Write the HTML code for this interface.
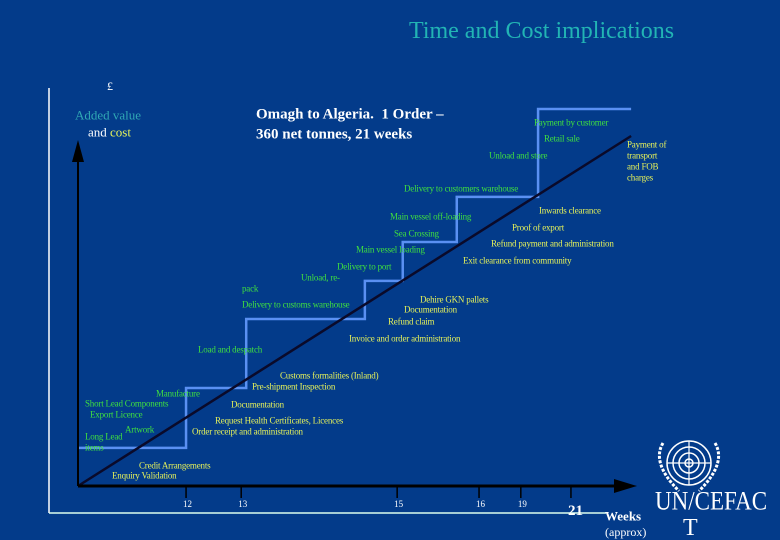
<!DOCTYPE html>
<html><head><meta charset="utf-8"><style>
html,body{margin:0;padding:0;background:#033b8a;}
#root{position:relative;width:780px;height:540px;overflow:hidden;background:#033b8a;font-family:"Liberation Serif",serif;}
.t{position:absolute;white-space:nowrap;line-height:1;transform:translateY(-50%);}
.g{color:#3fe03f;font-size:9px;letter-spacing:-0.2px;}
.y{color:#e6f25a;font-size:9px;letter-spacing:-0.2px;}
</style></head><body>
<div id="root">
<svg id="chart" width="780" height="540" style="position:absolute;left:0;top:0"></svg>
<div class="t" style="left:409px;top:31px;color:#22b4b4;font-size:24px;">Time and Cost implications</div>
<div class="t" style="left:107px;top:86px;color:#fff;font-size:12px;">£</div>
<div class="t" style="left:75px;top:115px;color:#30a8b4;font-size:13px;">Added value</div>
<div class="t" style="left:88px;top:132px;color:#fff;font-size:13px;">and <span style="color:#e6f25a">cost</span></div>
<div class="t" style="left:256px;top:115px;color:#fff;font-size:15px;font-weight:bold;">Omagh to Algeria.&nbsp; 1 Order –</div>
<div class="t" style="left:256px;top:135px;color:#fff;font-size:15px;font-weight:bold;">360 net tonnes, 21 weeks</div>

<div class="t g" style="left:534px;top:123px">Payment by customer</div>
<div class="t g" style="left:544px;top:139px">Retail sale</div>
<div class="t g" style="left:489px;top:156px">Unload and store</div>
<div class="t g" style="left:404px;top:189px">Delivery to customers warehouse</div>
<div class="t g" style="left:390px;top:217px">Main vessel off-loading</div>
<div class="t g" style="left:394px;top:234px">Sea Crossing</div>
<div class="t g" style="left:356px;top:250px">Main vessel loading</div>
<div class="t g" style="left:337px;top:267px">Delivery to port</div>
<div class="t g" style="left:301px;top:278px">Unload, re-</div>
<div class="t g" style="left:242px;top:289px">pack</div>
<div class="t g" style="left:242px;top:305px">Delivery to customs warehouse</div>
<div class="t g" style="left:198px;top:350px">Load and despatch</div>
<div class="t g" style="left:156px;top:394px">Manufacture</div>
<div class="t g" style="left:85px;top:404px">Short Lead Components</div>
<div class="t g" style="left:90px;top:415px">Export Licence</div>
<div class="t g" style="left:125px;top:430px">Artwork</div>
<div class="t g" style="left:85px;top:437px">Long Lead</div>
<div class="t g" style="left:85px;top:448px">items</div>

<div class="t y" style="left:627px;top:145px">Payment of</div>
<div class="t y" style="left:627px;top:156px">transport</div>
<div class="t y" style="left:627px;top:167px">and FOB</div>
<div class="t y" style="left:627px;top:178px">charges</div>
<div class="t y" style="left:539px;top:211px">Inwards clearance</div>
<div class="t y" style="left:512px;top:228px">Proof of export</div>
<div class="t y" style="left:491px;top:244px">Refund payment and administration</div>
<div class="t y" style="left:463px;top:261px">Exit clearance from community</div>
<div class="t y" style="left:420px;top:300px">Dehire GKN pallets</div>
<div class="t y" style="left:404px;top:310px">Documentation</div>
<div class="t y" style="left:388px;top:322px">Refund claim</div>
<div class="t y" style="left:349px;top:339px">Invoice and order administration</div>
<div class="t y" style="left:280px;top:376px">Customs formalities (Inland)</div>
<div class="t y" style="left:252px;top:387px">Pre-shipment Inspection</div>
<div class="t y" style="left:231px;top:405px">Documentation</div>
<div class="t y" style="left:215px;top:421px">Request Health Certificates, Licences</div>
<div class="t y" style="left:192px;top:432px">Order receipt and administration</div>
<div class="t y" style="left:139px;top:466px">Credit Arrangements</div>
<div class="t y" style="left:112px;top:476px">Enquiry Validation</div>

<div class="t" style="left:605px;top:516px;color:#fff;font-size:13px;font-weight:bold;">Weeks</div>
<div class="t" style="left:605px;top:532px;color:#fff;font-size:12px;">(approx)</div>
<div class="t" style="left:655px;top:501px;color:#fff;font-size:23px;transform:translateY(-50%) scaleY(1.15);">UN/CEFAC</div>
<div class="t" style="left:683px;top:528px;color:#fff;font-size:24px;">T</div>
</div>
<script>
const tickLabels = ["12","13","15","16","19","21"];
const tickPos = [19.4, 29.3, 57.3, 72.0, 79.5, 88.5];
const stepX = [0, 19.4, 30.2, 51.5, 58.3, 68.0, 82.6, 99.3];
const stepY = [10.9, 28.0, 47.7, 58.6, 69.7, 82.6, 107.7, 107.7];
const costX = [0, 99.3];
const costY = [0, 100];

const NS = "http://www.w3.org/2000/svg";
const svg = document.getElementById("chart");
const x0 = 78, x1 = 635, y0 = 486;
function sx(v){ return x0 + v * (x1 - x0) / 100; }
function sy(v){ return y0 - v * 3.5; }
function mk(tag, attrs){ const e = document.createElementNS(NS, tag); for (const k in attrs) e.setAttribute(k, attrs[k]); svg.appendChild(e); return e; }

let e;
e = mk("line",{x1:49,y1:88,x2:49,y2:513,stroke:"#fff","stroke-width":1.5});


e = mk("line",{x1:49,y1:513,x2:606,y2:513,stroke:"#dfe",'stroke-width':1.5});



let d = "M" + sx(stepX[0]) + "," + sy(stepY[0]);
for (let i = 1; i < stepX.length; i++) {
  d += " L" + sx(stepX[i]) + "," + sy(stepY[i-1]) + " L" + sx(stepX[i]) + "," + sy(stepY[i]);
}
e = mk("path",{d:d,fill:"none",stroke:"#5a90f2","stroke-width":2.5});



e = mk("line",{x1:sx(costX[0]),y1:sy(costY[0]),x2:sx(costX[1]),y2:sy(costY[1]),stroke:"#0a0a2a","stroke-width":2.5});



e = mk("line",{x1:x0,y1:y0,x2:x0,y2:160,stroke:"#000","stroke-width":2});


e = mk("polygon",{points:"72,162 84,162 78,140",fill:"#000"});


e = mk("line",{x1:x0,y1:y0,x2:618,y2:y0,stroke:"#000","stroke-width":3});


e = mk("polygon",{points:"614,479 614,493 637,486",fill:"#000"});



for (let i = 0; i < tickPos.length; i++) {
  const px = sx(tickPos[i]);
  e = mk("line",{x1:px,y1:y0,x2:px,y2:498,stroke:"#000","stroke-width":1.5});
  
  
  const last = i === tickPos.length - 1;
  e = mk("text",{x:px+(last?-3:-3),y:last?515:507,fill:"#fff","font-size":last?15:9,"font-family":"Liberation Serif, serif","font-weight":last?"bold":"normal"});
  e.textContent = tickLabels[i];
  
  
}

const g = document.createElementNS(NS,"g");


svg.appendChild(g);
function lg(tag, attrs){ const el = document.createElementNS(NS, tag); for (const k in attrs) el.setAttribute(k, attrs[k]); g.appendChild(el); return el; }
const cx = 689, cy = 463;
[22,16,10,4].forEach(r => lg("circle",{cx:cx,cy:cy,r:r,fill:"none",stroke:"#fff","stroke-width":1.5}));
lg("line",{x1:cx-22,y1:cy,x2:cx+22,y2:cy,stroke:"#fff","stroke-width":1.2});
lg("line",{x1:cx,y1:cy-22,x2:cx,y2:cy+22,stroke:"#fff","stroke-width":1.2});
lg("path",{d:`M${cx-26},${cy-20} Q${cx-38},${cy} ${cx-10},${cy+28}`,fill:"none",stroke:"#fff","stroke-width":3,"stroke-dasharray":"3 1.5"});
lg("path",{d:`M${cx+26},${cy-20} Q${cx+38},${cy} ${cx+10},${cy+28}`,fill:"none",stroke:"#fff","stroke-width":3,"stroke-dasharray":"3 1.5"});
</script>
</body></html>
